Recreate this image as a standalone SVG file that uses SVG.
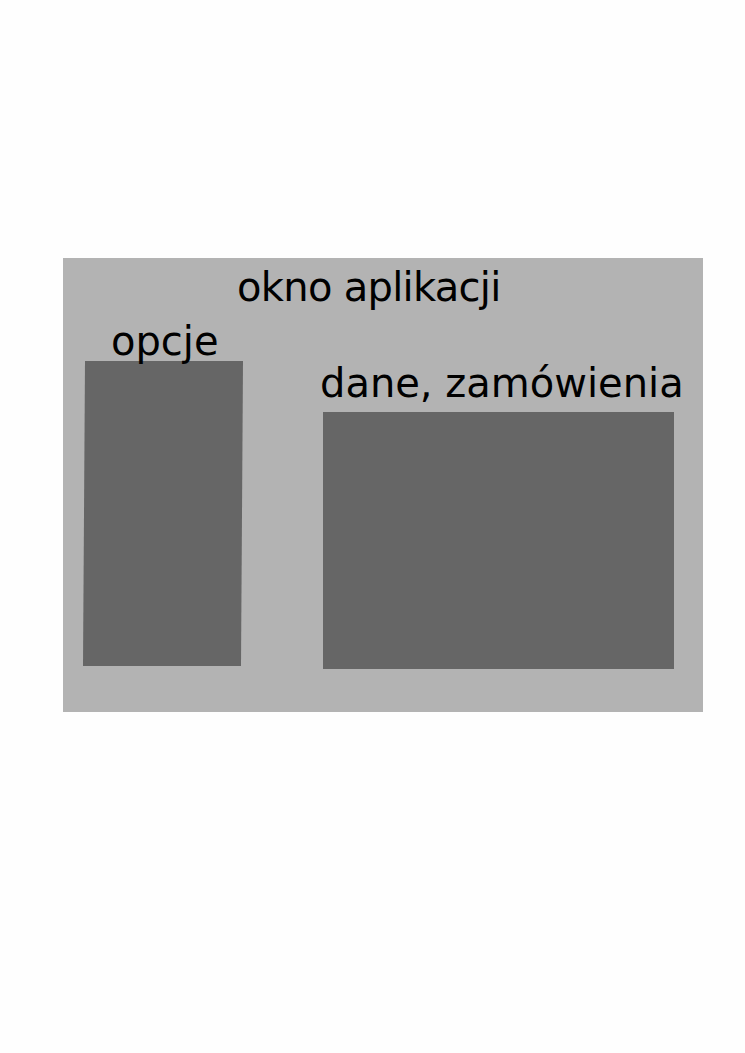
<svg xmlns="http://www.w3.org/2000/svg" width="745" height="1053" viewBox="0 0 745 1053">
<style>
text{font-family:"DejaVu Sans",sans-serif;font-size:40px;fill:#000}
.panel{fill:#666666}
</style>
<rect width="745" height="1053" fill="#fefefe"/>
<g id="okno">
<rect x="63" y="258" width="640" height="454" fill="#b3b3b3"/>
<text x="237" y="301" letter-spacing="-0.7">okno aplikacji</text>
</g>
<g id="opcje">
<polygon class="panel" points="85,361 243,361 241,666 83,666"/>
<text x="111" y="355">opcje</text>
</g>
<g id="dane">
<rect class="panel" x="323" y="412" width="351" height="257"/>
<text x="320" y="397">dane, zamówienia</text>
</g>
<g id="connectors"/>
</svg>
